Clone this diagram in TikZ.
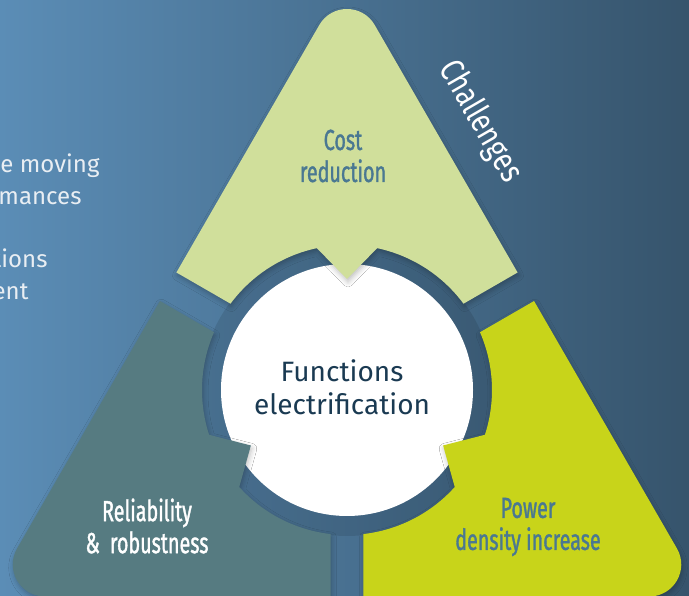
\documentclass[tikz,border=0pt]{standalone}
\usepackage{fontspec}
\setmainfont{Fira Sans}
\newfontfamily\condfont[FakeStretch=0.68, FakeBold=1.2]{Fira Sans}
\newfontfamily\titlefont[FakeStretch=0.8]{Fira Sans}
\usetikzlibrary{shadows.blur}

\definecolor{bgleft}{HTML}{5B8DB6}
\definecolor{bgright}{HTML}{36546C}
\definecolor{costgreen}{HTML}{D0DF9B}
\definecolor{slate}{HTML}{567B81}
\definecolor{lime}{HTML}{C8D41A}
\definecolor{labelblue}{HTML}{4A7892}
\definecolor{navy}{HTML}{1A3A52}
\definecolor{paletext}{HTML}{E9EEF3}

\begin{document}
\begin{tikzpicture}[x=1pt, y=1pt,
    petal/.style={blur shadow={shadow xshift=1pt, shadow yshift=-3pt, shadow blur radius=5pt, shadow opacity=25}},
    biglabel/.style={font=\condfont\fontsize{29}{32}\selectfont, align=center},
    sidetext/.style={font=\fontsize{24}{28}\selectfont, text=paletext, anchor=base east}]

    % Background
    \useasboundingbox (0,0) rectangle (689,596);
    \clip (0,0) rectangle (689,596);
    \shade[left color=bgleft, right color=bgright] (0,0) rectangle (689,596);

    % Ring and hub
    \coordinate (c) at (347,206);
    \fill[black, opacity=0.1] (c) circle (146);
    \fill[white] (c) circle (126);

    % One petal per corner of the triangle
    \foreach \ang/\col in {90/costgreen, 210/slate, 330/lime}
    {
        \begin{scope}[shift={(c)}]
            \fill[\col, petal] ({\ang+53.47}:145) -- ({\ang+55.44}:207.15) -- ({\ang+4.342}:366.05)
                .. controls ({\ang+2.283}:386.64) and ({\ang-2.283}:386.64) .. ({\ang-4.342}:366.05)
                -- ({\ang-55.44}:207.15) -- ({\ang-53.47}:145)
                arc[start angle=\ang-53.47, end angle=\ang-12, radius=145] -- (\ang:111) -- ({\ang+12}:145)
                arc[start angle=\ang+12, end angle=\ang+53.47, radius=145] -- cycle;
        \end{scope}
    }

    % Labels
    \node[biglabel, text=labelblue] (cost) at (343,440) {Cost\\reduction};
    \node[biglabel, text=white] (reliab) at (147,70) {Reliability\\\& \,robustness};
    \node[biglabel, text=labelblue] (power) at (528,69) {Power\\density increase};
    \node[font=\fontsize{28}{33}\selectfont, text=navy, align=center] (functions) at (342,209) {Functions\\electrification};
    \node[font=\titlefont\fontsize{34}{34}\selectfont, text=white, rotate=-60] (challenges) at (480,474) {Challenges};

    % Text running in from the left
    \node[sidetext] (moving) at (103,423) {e moving};
    \node[sidetext] (mances) at (85,391) {mances};
    \node[sidetext] (tions) at (51,328) {tions};
    \node[sidetext] (ent) at (32,296) {ent};

\end{tikzpicture}
\end{document}
